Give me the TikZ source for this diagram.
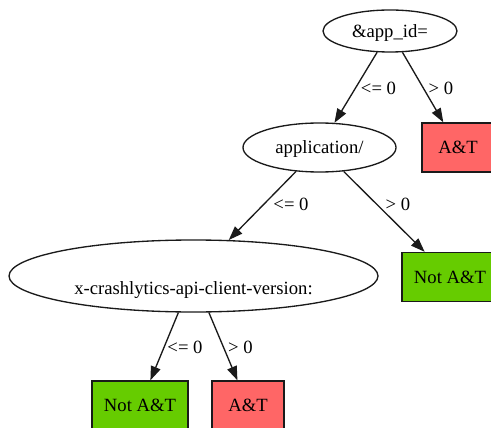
\documentclass[tikz,border=0pt]{standalone}
\usepackage{fontspec}
\setmainfont{Liberation Serif}
\newfontfamily\timesfont{Liberation Serif}
\usetikzlibrary{arrows.meta,shapes.geometric}
\definecolor{redfill}{HTML}{FF6666}
\definecolor{greenfill}{HTML}{66CC00}
\definecolor{linecol}{HTML}{1A1A1A}
\begin{document}
\begin{tikzpicture}[x=0.75pt,y=-0.75pt,
  every node/.style={font=\timesfont\fontsize{14pt}{16pt}\selectfont, text height=9.3pt, text depth=0pt, inner sep=0pt},
  ell/.style={draw=linecol, ellipse, line width=1pt},
  leaf/.style={draw=linecol, rectangle, line width=1pt, minimum height=36.75pt},
  arr/.style={draw=linecol, -{Triangle[length=10.5pt,width=7.5pt]}, line width=1pt},
  lbl/.style={}
]
\useasboundingbox (0,0) rectangle (491,427);
% decision nodes
\node[ell, minimum width=100.5pt, minimum height=31.5pt] (root) at (390,31) {\&app\_id=};
\node[ell, minimum width=114.75pt, minimum height=36.75pt] (app) at (319.5,147.5) {application/};
\node[ell, minimum width=276.75pt, minimum height=54pt] (xc) at (193.5,276) {};
\node (xct) at (193.5,288) {x-crashlytics-api-client-version:};
% leaves
\node[leaf, fill=redfill, minimum width=54pt] (l1) at (458,147.5) {A\&T};
\node[leaf, fill=greenfill, minimum width=72pt] (l2) at (450,277) {Not A\&T};
\node[leaf, fill=greenfill, minimum width=72pt] (l3) at (140,405.5) {Not A\&T};
\node[leaf, fill=redfill, minimum width=54pt] (l4) at (248,405.5) {A\&T};
% edges
\draw[arr] (root) -- (app);
\draw[arr] (root) -- (l1);
\draw[arr] (app) -- (xc);
\draw[arr] (app) -- (l2);
\draw[arr] (xc) -- (l3);
\draw[arr] (xc) -- (l4);
% edge labels
\node[lbl] (e1) at (378.5,88) {<= 0};
\node[lbl] (e2) at (441,88) {> 0};
\node[lbl] (e3) at (291,204) {<= 0};
\node[lbl] (e4) at (398,204) {> 0};
\node[lbl] (e5) at (185,347) {<= 0};
\node[lbl] (e6) at (240.5,347) {> 0};
\end{tikzpicture}
\end{document}
